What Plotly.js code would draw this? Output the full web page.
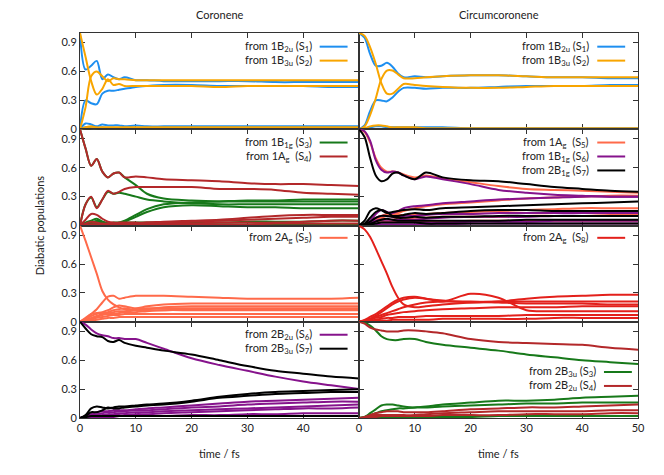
<!DOCTYPE html>
<html>
<head>
<meta charset="utf-8">
<script src="https://cdn.plot.ly/plotly-3.0.1.min.js"></script>
<style>
  html, body { margin: 0; padding: 0; background: #fff; }
  #chart { width: 664px; height: 475px; }
</style>
</head>
<body>
<div id="chart"></div>
<script>
// time grid (fs) shared by all curves
const T = [0, 1, 2, 3, 4, 5, 6, 7, 8, 10, 12, 15, 20, 25, 30, 35, 40, 45, 50];

// Coronene, from 1B2u (S1)
const coroS1 = [
  [1, 0.62, 0.66, 0.71, 0.52, 0.57, 0.54, 0.52, 0.54, 0.51, 0.51, 0.50, 0.50, 0.50, 0.50, 0.49, 0.49, 0.49, 0.49],
  [0, 0.30, 0.27, 0.26, 0.37, 0.40, 0.40, 0.41, 0.42, 0.44, 0.45, 0.46, 0.46, 0.45, 0.45, 0.45, 0.45, 0.44, 0.44],
  [0, 0.06, 0.05, 0.03, 0.05, 0.04, 0.04, 0.04, 0.03, 0.04, 0.03, 0.03, 0.03, 0.03, 0.03, 0.03, 0.03, 0.03, 0.03],
  [0, 0.02, 0.01, 0.01, 0.02, 0.01, 0.01, 0.01, 0.01, 0.01, 0.01, 0.01, 0.01, 0.01, 0.01, 0.01, 0.01, 0.01, 0.01]
];
// Coronene, from 1B3u (S2)
const coroS2 = [
  [1, 0.75, 0.50, 0.36, 0.42, 0.52, 0.46, 0.47, 0.45, 0.45, 0.45, 0.45, 0.45, 0.44, 0.45, 0.45, 0.45, 0.45, 0.45],
  [0, 0.23, 0.55, 0.60, 0.55, 0.50, 0.53, 0.52, 0.52, 0.51, 0.51, 0.51, 0.51, 0.51, 0.51, 0.51, 0.51, 0.51, 0.51],
  [0, 0.02, 0.03, 0.02, 0.02, 0.02, 0.02, 0.02, 0.02, 0.02, 0.02, 0.02, 0.02, 0.02, 0.02, 0.02, 0.02, 0.02, 0.02],
  [0, 0.01, 0.01, 0.01, 0.01, 0.01, 0.01, 0.01, 0.01, 0.01, 0.01, 0.01, 0.01, 0.01, 0.01, 0.01, 0.01, 0.01, 0.01]
];
// Coronene, from 1B1g (S3)
const coroS3 = [
  [1, 0.80, 0.62, 0.69, 0.56, 0.50, 0.54, 0.55, 0.50, 0.42, 0.33, 0.28, 0.26, 0.25, 0.25, 0.25, 0.25, 0.25, 0.25],
  [0, 0.22, 0.29, 0.19, 0.27, 0.35, 0.33, 0.34, 0.33, 0.30, 0.27, 0.25, 0.23, 0.22, 0.22, 0.22, 0.22, 0.22, 0.22],
  [0, 0.01, 0.03, 0.05, 0.04, 0.02, 0.02, 0.03, 0.05, 0.11, 0.17, 0.22, 0.24, 0.25, 0.26, 0.26, 0.27, 0.27, 0.27],
  [0, 0.00, 0.02, 0.04, 0.03, 0.02, 0.02, 0.02, 0.04, 0.09, 0.14, 0.19, 0.21, 0.20, 0.19, 0.19, 0.18, 0.18, 0.18],
  [0, 0.03, 0.05, 0.07, 0.04, 0.02, 0.03, 0.03, 0.03, 0.03, 0.03, 0.03, 0.03, 0.03, 0.04, 0.04, 0.04, 0.05, 0.05],
  [0, 0.01, 0.01, 0.02, 0.01, 0.01, 0.01, 0.01, 0.01, 0.01, 0.01, 0.01, 0.01, 0.01, 0.01, 0.01, 0.01, 0.01, 0.01]
];
// Coronene, from 1Ag (S4)
const coroS4 = [
  [1, 0.80, 0.62, 0.69, 0.56, 0.50, 0.54, 0.55, 0.50, 0.51, 0.50, 0.48, 0.47, 0.46, 0.44, 0.43, 0.43, 0.42, 0.41],
  [0, 0.22, 0.30, 0.18, 0.27, 0.36, 0.33, 0.35, 0.38, 0.40, 0.40, 0.40, 0.40, 0.38, 0.38, 0.37, 0.34, 0.33, 0.32],
  [0, 0.06, 0.12, 0.11, 0.07, 0.04, 0.03, 0.03, 0.03, 0.03, 0.03, 0.04, 0.05, 0.06, 0.08, 0.10, 0.11, 0.11, 0.11],
  [0, 0.02, 0.04, 0.03, 0.02, 0.02, 0.02, 0.02, 0.02, 0.02, 0.03, 0.03, 0.04, 0.05, 0.06, 0.07, 0.08, 0.09, 0.09],
  [0, 0.01, 0.01, 0.01, 0.01, 0.01, 0.01, 0.01, 0.01, 0.01, 0.02, 0.02, 0.02, 0.03, 0.03, 0.03, 0.04, 0.05, 0.05],
  [0, 0.00, 0.01, 0.01, 0.01, 0.01, 0.01, 0.01, 0.01, 0.01, 0.01, 0.01, 0.01, 0.01, 0.01, 0.02, 0.02, 0.02, 0.02]
];
// Coronene, from 2Ag (S5)
const coroS5 = [
  [1, 0.84, 0.67, 0.50, 0.32, 0.23, 0.18, 0.15, 0.13, 0.12, 0.12, 0.12, 0.13, 0.13, 0.13, 0.13, 0.13, 0.13, 0.13],
  [0, 0.03, 0.08, 0.13, 0.20, 0.26, 0.27, 0.24, 0.25, 0.27, 0.27, 0.27, 0.26, 0.25, 0.24, 0.24, 0.24, 0.24, 0.25],
  [0, 0.04, 0.08, 0.09, 0.10, 0.12, 0.15, 0.17, 0.16, 0.14, 0.16, 0.18, 0.19, 0.19, 0.19, 0.19, 0.19, 0.19, 0.19],
  [0, 0.03, 0.06, 0.08, 0.09, 0.10, 0.12, 0.13, 0.14, 0.12, 0.13, 0.15, 0.16, 0.16, 0.16, 0.16, 0.16, 0.16, 0.16],
  [0, 0.02, 0.04, 0.06, 0.08, 0.09, 0.10, 0.11, 0.11, 0.13, 0.14, 0.14, 0.14, 0.14, 0.14, 0.14, 0.14, 0.14, 0.14],
  [0, 0.01, 0.03, 0.05, 0.07, 0.08, 0.08, 0.09, 0.10, 0.10, 0.11, 0.12, 0.12, 0.12, 0.12, 0.12, 0.12, 0.12, 0.12],
  [0, 0.01, 0.02, 0.04, 0.05, 0.06, 0.07, 0.07, 0.08, 0.08, 0.08, 0.08, 0.08, 0.08, 0.08, 0.08, 0.08, 0.08, 0.08],
  [0, 0.00, 0.01, 0.02, 0.03, 0.04, 0.04, 0.05, 0.05, 0.05, 0.05, 0.05, 0.05, 0.05, 0.05, 0.05, 0.05, 0.05, 0.05]
];
// Coronene, from 2B2u (S6)
const coroS6 = [
  [1, 0.97, 0.92, 0.88, 0.86, 0.85, 0.83, 0.83, 0.82, 0.82, 0.78, 0.72, 0.62, 0.55, 0.49, 0.43, 0.38, 0.34, 0.30],
  [0, 0.02, 0.04, 0.06, 0.07, 0.07, 0.08, 0.08, 0.08, 0.09, 0.10, 0.11, 0.13, 0.15, 0.17, 0.18, 0.19, 0.20, 0.21],
  [0, 0.01, 0.03, 0.04, 0.05, 0.06, 0.06, 0.07, 0.07, 0.08, 0.08, 0.09, 0.11, 0.12, 0.14, 0.15, 0.16, 0.17, 0.17],
  [0, 0.01, 0.02, 0.03, 0.03, 0.04, 0.04, 0.05, 0.05, 0.06, 0.06, 0.07, 0.08, 0.09, 0.10, 0.11, 0.12, 0.13, 0.14],
  [0, 0.00, 0.01, 0.02, 0.02, 0.02, 0.03, 0.03, 0.03, 0.04, 0.04, 0.05, 0.06, 0.07, 0.08, 0.09, 0.10, 0.10, 0.11],
  [0, 0.00, 0.01, 0.01, 0.01, 0.01, 0.01, 0.02, 0.02, 0.02, 0.02, 0.02, 0.03, 0.03, 0.04, 0.04, 0.05, 0.05, 0.05]
];
// Coronene, from 2B3u (S7)
const coroS7 = [
  [1, 0.93, 0.87, 0.85, 0.84, 0.80, 0.79, 0.81, 0.78, 0.75, 0.73, 0.70, 0.66, 0.60, 0.54, 0.49, 0.46, 0.43, 0.41],
  [0, 0.03, 0.10, 0.12, 0.11, 0.10, 0.11, 0.12, 0.12, 0.13, 0.14, 0.15, 0.18, 0.22, 0.25, 0.27, 0.28, 0.29, 0.30],
  [0, 0.02, 0.06, 0.06, 0.08, 0.11, 0.10, 0.10, 0.11, 0.12, 0.13, 0.14, 0.17, 0.21, 0.23, 0.25, 0.26, 0.27, 0.27],
  [0, 0.01, 0.02, 0.02, 0.02, 0.02, 0.02, 0.02, 0.02, 0.02, 0.02, 0.02, 0.02, 0.02, 0.02, 0.02, 0.02, 0.02, 0.02]
];

// Circumcoronene, from 1B2u (S1)
const circS1 = [
  [1, 0.95, 0.78, 0.66, 0.66, 0.69, 0.65, 0.58, 0.54, 0.55, 0.54, 0.55, 0.56, 0.56, 0.55, 0.54, 0.54, 0.53, 0.53],
  [0, 0.04, 0.19, 0.30, 0.30, 0.29, 0.33, 0.39, 0.43, 0.43, 0.42, 0.43, 0.43, 0.44, 0.45, 0.45, 0.45, 0.46, 0.46],
  [0, 0.01, 0.02, 0.03, 0.03, 0.02, 0.02, 0.02, 0.02, 0.02, 0.02, 0.02, 0.01, 0.01, 0.01, 0.01, 0.01, 0.01, 0.01]
];
// Circumcoronene, from 1B3u (S2)
const circS2 = [
  [1, 0.97, 0.85, 0.68, 0.48, 0.37, 0.37, 0.42, 0.47, 0.46, 0.45, 0.44, 0.43, 0.43, 0.44, 0.45, 0.45, 0.45, 0.45],
  [0, 0.03, 0.15, 0.32, 0.52, 0.61, 0.61, 0.57, 0.53, 0.53, 0.54, 0.55, 0.56, 0.56, 0.55, 0.54, 0.54, 0.54, 0.54],
  [0, 0.01, 0.03, 0.04, 0.04, 0.03, 0.02, 0.02, 0.02, 0.02, 0.01, 0.01, 0.01, 0.01, 0.01, 0.01, 0.01, 0.01, 0.01]
];
// Circumcoronene, from 1Ag (S5)
const circS5 = [
  [1, 0.97, 0.86, 0.70, 0.60, 0.56, 0.56, 0.55, 0.53, 0.50, 0.52, 0.49, 0.45, 0.41, 0.38, 0.37, 0.36, 0.35, 0.34],
  [0, 0.01, 0.04, 0.08, 0.10, 0.12, 0.12, 0.13, 0.15, 0.18, 0.20, 0.22, 0.24, 0.26, 0.28, 0.29, 0.30, 0.31, 0.31],
  [0, 0.01, 0.03, 0.07, 0.08, 0.10, 0.11, 0.11, 0.11, 0.11, 0.12, 0.13, 0.14, 0.15, 0.16, 0.17, 0.18, 0.18, 0.18],
  [0, 0.01, 0.03, 0.05, 0.07, 0.06, 0.06, 0.07, 0.07, 0.08, 0.08, 0.09, 0.09, 0.09, 0.10, 0.10, 0.10, 0.11, 0.11],
  [0, 0.00, 0.02, 0.04, 0.05, 0.04, 0.04, 0.04, 0.04, 0.04, 0.04, 0.04, 0.05, 0.05, 0.05, 0.05, 0.05, 0.05, 0.05]
];
// Circumcoronene, from 1B1g (S6)
const circS6 = [
  [1, 0.98, 0.88, 0.68, 0.58, 0.55, 0.56, 0.55, 0.52, 0.48, 0.51, 0.48, 0.43, 0.37, 0.34, 0.32, 0.31, 0.30, 0.30],
  [0, 0.01, 0.05, 0.12, 0.16, 0.14, 0.13, 0.15, 0.18, 0.20, 0.21, 0.23, 0.25, 0.27, 0.28, 0.29, 0.30, 0.30, 0.30],
  [0, 0.01, 0.03, 0.08, 0.10, 0.10, 0.09, 0.09, 0.10, 0.10, 0.11, 0.12, 0.12, 0.13, 0.13, 0.13, 0.13, 0.13, 0.13],
  [0, 0.00, 0.02, 0.05, 0.06, 0.06, 0.06, 0.06, 0.06, 0.06, 0.07, 0.08, 0.09, 0.09, 0.09, 0.10, 0.10, 0.10, 0.10],
  [0, 0.00, 0.01, 0.02, 0.03, 0.03, 0.03, 0.03, 0.03, 0.03, 0.03, 0.03, 0.04, 0.04, 0.04, 0.05, 0.05, 0.05, 0.05],
  [0, 0.00, 0.00, 0.01, 0.01, 0.01, 0.01, 0.01, 0.01, 0.01, 0.01, 0.01, 0.02, 0.02, 0.02, 0.02, 0.02, 0.02, 0.02]
];
// Circumcoronene, from 2B1g (S7)
const circS7 = [
  [1, 0.92, 0.70, 0.52, 0.46, 0.48, 0.54, 0.55, 0.52, 0.48, 0.55, 0.50, 0.47, 0.46, 0.43, 0.40, 0.38, 0.36, 0.35],
  [0, 0.05, 0.15, 0.18, 0.16, 0.13, 0.14, 0.15, 0.16, 0.17, 0.16, 0.18, 0.19, 0.20, 0.21, 0.22, 0.23, 0.24, 0.25],
  [0, 0.02, 0.08, 0.14, 0.16, 0.14, 0.10, 0.10, 0.11, 0.13, 0.12, 0.13, 0.15, 0.16, 0.16, 0.15, 0.15, 0.15, 0.15],
  [0, 0.01, 0.04, 0.08, 0.10, 0.10, 0.09, 0.08, 0.08, 0.09, 0.08, 0.09, 0.09, 0.10, 0.10, 0.10, 0.10, 0.10, 0.10],
  [0, 0.00, 0.02, 0.04, 0.06, 0.07, 0.06, 0.05, 0.05, 0.05, 0.05, 0.05, 0.05, 0.05, 0.06, 0.06, 0.06, 0.06, 0.06],
  [0, 0.00, 0.01, 0.02, 0.03, 0.03, 0.03, 0.03, 0.03, 0.03, 0.02, 0.02, 0.02, 0.02, 0.02, 0.02, 0.02, 0.02, 0.02]
];
// Circumcoronene, from 2Ag (S8)
const circS8 = [
  [1, 0.96, 0.88, 0.76, 0.63, 0.50, 0.36, 0.25, 0.18, 0.15, 0.16, 0.18, 0.20, 0.21, 0.21, 0.21, 0.21, 0.21, 0.21],
  [0, 0.01, 0.03, 0.06, 0.10, 0.14, 0.18, 0.21, 0.23, 0.25, 0.24, 0.21, 0.29, 0.25, 0.12, 0.11, 0.11, 0.11, 0.11],
  [0, 0.02, 0.05, 0.08, 0.12, 0.16, 0.20, 0.23, 0.25, 0.26, 0.24, 0.22, 0.20, 0.21, 0.24, 0.26, 0.27, 0.28, 0.28],
  [0, 0.01, 0.03, 0.05, 0.07, 0.09, 0.11, 0.13, 0.15, 0.18, 0.20, 0.21, 0.21, 0.20, 0.19, 0.19, 0.19, 0.18, 0.18],
  [0, 0.01, 0.02, 0.04, 0.05, 0.07, 0.08, 0.09, 0.10, 0.11, 0.12, 0.13, 0.14, 0.15, 0.15, 0.15, 0.16, 0.16, 0.16],
  [0, 0.00, 0.01, 0.02, 0.03, 0.04, 0.04, 0.05, 0.05, 0.05, 0.06, 0.06, 0.06, 0.06, 0.07, 0.07, 0.07, 0.07, 0.07],
  [0, 0.00, 0.00, 0.01, 0.01, 0.01, 0.02, 0.02, 0.02, 0.02, 0.02, 0.03, 0.03, 0.03, 0.03, 0.04, 0.04, 0.04, 0.04]
];
// Circumcoronene, from 2B3u (S3)
const circS3 = [
  [1, 0.99, 0.96, 0.91, 0.85, 0.82, 0.81, 0.81, 0.82, 0.82, 0.79, 0.76, 0.73, 0.70, 0.66, 0.63, 0.60, 0.58, 0.56],
  [0, 0.01, 0.05, 0.09, 0.13, 0.14, 0.14, 0.13, 0.12, 0.11, 0.12, 0.14, 0.16, 0.18, 0.18, 0.19, 0.21, 0.22, 0.23],
  [0, 0.01, 0.03, 0.05, 0.07, 0.08, 0.09, 0.10, 0.10, 0.11, 0.11, 0.12, 0.13, 0.14, 0.15, 0.15, 0.16, 0.16, 0.16],
  [0, 0.00, 0.01, 0.01, 0.01, 0.01, 0.01, 0.01, 0.01, 0.01, 0.01, 0.01, 0.01, 0.02, 0.02, 0.02, 0.02, 0.02, 0.02]
];
// Circumcoronene, from 2B2u (S4)
const circS4 = [
  [1, 0.98, 0.94, 0.92, 0.91, 0.90, 0.90, 0.90, 0.91, 0.91, 0.90, 0.88, 0.82, 0.79, 0.78, 0.77, 0.76, 0.73, 0.71],
  [0, 0.01, 0.03, 0.05, 0.06, 0.07, 0.07, 0.07, 0.06, 0.06, 0.06, 0.07, 0.09, 0.10, 0.11, 0.11, 0.12, 0.13, 0.14],
  [0, 0.00, 0.02, 0.03, 0.03, 0.03, 0.03, 0.03, 0.03, 0.03, 0.04, 0.05, 0.06, 0.07, 0.07, 0.07, 0.07, 0.08, 0.08],
  [0, 0.00, 0.01, 0.01, 0.02, 0.02, 0.02, 0.02, 0.02, 0.02, 0.02, 0.03, 0.03, 0.03, 0.04, 0.04, 0.04, 0.05, 0.05]
];

const columnTitles = ['Coronene', 'Circumcoronene'];
const yTickVals = [0, 0.3, 0.6, 0.9];
const yTickText = ['0', '0.3', '0.6', '0.9'];
const xTickVals = [0, 10, 20, 30, 40, 50];

const BLUE = '#1e8ff0', ORANGE = '#f8a500', GREEN = '#17791a', FIREBRICK = '#b3282a';
const SALMON = '#ff6a4a', PURPLE = '#86138c', BLACK = '#000000', RED = '#e3201b';
const NB = '\u00a0';

// one entry per subplot: row, column, legend position and the groups drawn in it
const panels = [
  {row: 1, col: 1, lx: 0.837, ly: 0.858, groups: [
    {label: 'from 1B<sub>2u</sub> (S<sub>1</sub>)', color: BLUE, lines: coroS1},
    {label: 'from 1B<sub>3u</sub> (S<sub>2</sub>)', color: ORANGE, lines: coroS2}]},
  {row: 1, col: 2, lx: 0.832, ly: 0.858, groups: [
    {label: 'from 1B<sub>2u</sub> (S<sub>1</sub>)', color: BLUE, lines: circS1},
    {label: 'from 1B<sub>3u</sub> (S<sub>2</sub>)', color: ORANGE, lines: circS2}]},
  {row: 2, col: 1, lx: 0.837, ly: 0.862, groups: [
    {label: 'from 1B<sub>1g</sub> (S<sub>3</sub>)', color: GREEN, lines: coroS3},
    {label: 'from 1A<sub>g</sub>' + NB + ' (S<sub>4</sub>)', color: FIREBRICK, lines: coroS4}]},
  {row: 2, col: 2, lx: 0.832, ly: 0.862, groups: [
    {label: 'from 1A<sub>g</sub>' + NB + ' (S<sub>5</sub>)', color: SALMON, lines: circS5},
    {label: 'from 1B<sub>1g</sub> (S<sub>6</sub>)', color: PURPLE, lines: circS6},
    {label: 'from 2B<sub>1g</sub> (S<sub>7</sub>)', color: BLACK, lines: circS7}]},
  {row: 3, col: 1, lx: 0.837, ly: 0.872, groups: [
    {label: 'from 2A<sub>g</sub> (S<sub>5</sub>)', color: SALMON, lines: coroS5}]},
  {row: 3, col: 2, lx: 0.832, ly: 0.872, groups: [
    {label: 'from 2A<sub>g</sub>' + NB + ' (S<sub>8</sub>)', color: RED, lines: circS8}]},
  {row: 4, col: 1, lx: 0.837, ly: 0.865, groups: [
    {label: 'from 2B<sub>2u</sub> (S<sub>6</sub>)', color: PURPLE, lines: coroS6},
    {label: 'from 2B<sub>3u</sub> (S<sub>7</sub>)', color: BLACK, lines: coroS7}]},
  {row: 4, col: 2, lx: 0.856, ly: 0.478, groups: [
    {label: 'from 2B<sub>3u</sub> (S<sub>3</sub>)', color: GREEN, lines: circS3},
    {label: 'from 2B<sub>2u</sub> (S<sub>4</sub>)', color: FIREBRICK, lines: circS4}]}
];

const FONT = 'Lato, "DejaVu Sans", sans-serif';
const traces = [];
const annotations = [];
const shapes = [];
const layout = {
  width: 664, height: 475,
  margin: {l: 80, r: 26, t: 33, b: 57},
  paper_bgcolor: '#fff', plot_bgcolor: '#fff',
  font: {family: FONT, size: 11, color: '#222'},
  showlegend: false
};

panels.forEach((p) => {
  const k = (p.row - 1) * 2 + p.col;
  const sx = k === 1 ? '' : String(k);
  const xDom = p.col === 1 ? [0, 0.5] : [0.5, 1];
  const yDom = [(4 - p.row) * 0.25, (5 - p.row) * 0.25];

  layout['xaxis' + sx] = {
    domain: xDom, range: [0, 50], anchor: 'y' + sx,
    showline: true, linecolor: '#333', linewidth: 1, mirror: 'ticks',
    ticks: 'inside', ticklen: 5, tickcolor: '#333',
    tickvals: xTickVals,
    ticktext: xTickVals.map(v => (p.col === 1 && v === 50) ? '' : String(v)),
    showticklabels: p.row === 4,
    showgrid: false, zeroline: false, layer: 'below traces',
    tickfont: {size: 11}
  };
  layout['yaxis' + sx] = {
    domain: yDom, range: [0, 1], anchor: 'x' + sx,
    showline: true, linecolor: '#333', linewidth: 1, mirror: 'ticks',
    ticks: 'inside', ticklen: 5, tickcolor: '#333',
    tickvals: yTickVals, ticktext: yTickText,
    showticklabels: p.col === 1,
    showgrid: false, zeroline: false, layer: 'below traces',
    tickfont: {size: 11}
  };

  p.groups.forEach((g, gi) => {
    g.lines.forEach((vals) => {
      traces.push({
        x: T, y: vals, xaxis: 'x' + sx, yaxis: 'y' + sx,
        type: 'scatter', mode: 'lines',
        line: {color: g.color, width: 2, shape: 'spline', smoothing: 0.9},
        hoverinfo: 'skip'
      });
    });
    // legend entry: text on the left, line sample on the right (gnuplot style)
    const yy = p.ly - gi * 0.145;
    annotations.push({
      xref: 'x' + sx + ' domain', yref: 'y' + sx + ' domain',
      x: p.lx, y: yy, xanchor: 'right', yanchor: 'middle',
      text: g.label, showarrow: false, font: {size: 11, color: '#222'}
    });
    shapes.push({
      type: 'line', xref: 'x' + sx + ' domain', yref: 'y' + sx + ' domain',
      x0: p.lx + 0.022, x1: p.lx + 0.122, y0: yy, y1: yy,
      line: {color: g.color, width: 2}
    });
  });
});

columnTitles.forEach((t, i) => {
  annotations.push({
    xref: 'paper', yref: 'paper', x: 0.25 + 0.5 * i, y: 1.049,
    xanchor: 'center', yanchor: 'middle', text: t, showarrow: false,
    font: {size: 11, color: '#222'}
  });
  annotations.push({
    xref: 'paper', yref: 'paper', x: 0.25 + 0.5 * i, y: -0.091,
    xanchor: 'center', yanchor: 'middle', text: 'time / fs', showarrow: false,
    font: {size: 11, color: '#222'}
  });
});
annotations.push({
  xref: 'paper', yref: 'paper', x: -0.072, y: 0.5,
  xanchor: 'center', yanchor: 'middle', textangle: -90,
  text: 'Diabatic populations', showarrow: false, font: {size: 11, color: '#222'}
});

layout.annotations = annotations;
layout.shapes = shapes;

Plotly.newPlot('chart', traces, layout, {displayModeBar: false, staticPlot: true});
</script>
</body>
</html>
